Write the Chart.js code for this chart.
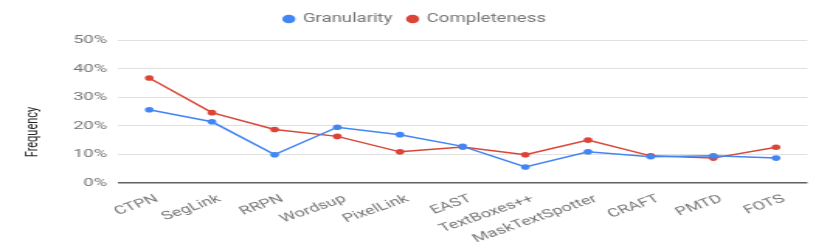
<!DOCTYPE html>
<html>
<head>
<meta charset="utf-8">
<script src="https://cdn.jsdelivr.net/npm/chart.js@4/dist/chart.umd.min.js"></script>
<style>
    html, body { margin: 0; padding: 0; background: #fff; overflow: hidden; }
    /* the reference is a chart stretched sideways, so draw it narrow and stretch it */
    #wrap {
        width: 535px;
        height: 245px;
        position: relative;
        transform: scaleX(1.5514);
        transform-origin: 0 0;
    }
</style>
</head>
<body>
<div id="wrap"><canvas id="chart"></canvas></div>
<script>
const methods = ["CTPN", "SegLink", "RRPN", "Wordsup", "PixelLink", "EAST",
    "TextBoxes++", "MaskTextSpotter", "CRAFT", "PMTD", "FOTS"];
const granularity = [25.6, 21.4, 9.9, 19.5, 16.9, 12.8, 5.6, 10.9, 9.2, 9.5, 8.7];
const completeness = [36.7, 24.6, 18.7, 16.3, 10.9, 12.6, 9.9, 15.0, 9.5, 8.7, 12.5];
const yTicks = [0, 10, 20, 30, 40, 50];
const yTitle = "Frequency";

const grey = "#757575";
const font = { family: "Roboto", size: 11.7 };

// draws the y axis title where the reference has it
const yTitlePlugin = {
    id: "yTitle",
    afterDraw(chart) {
        const ctx = chart.ctx;
        ctx.save();
        ctx.translate(21, 132);
        ctx.rotate(-Math.PI / 2);
        ctx.fillStyle = "#222";
        ctx.font = "11px Roboto";
        ctx.textAlign = "center";
        ctx.textBaseline = "middle";
        ctx.fillText(yTitle, 0, 0);
        ctx.restore();
    },
};

// leave a bit more room under the legend
const legendGap = {
    id: "legendGap",
    beforeUpdate(chart) {
        const legend = chart.legend;
        if (legend && !legend._gapPatched) {
            const fit = legend.fit;
            legend.fit = function () {
                fit.call(this);
                this.height += 5;
            };
            legend._gapPatched = true;
        }
    },
};

const ctx = document.getElementById("chart").getContext("2d");
new Chart(ctx, {
    type: "line",
    data: {
        labels: methods,
        datasets: [
            {
                label: "Granularity",
                data: granularity,
                borderColor: "#4285F4",
                backgroundColor: "#4285F4",
                borderWidth: 1.5,
                pointRadius: 2.8,
                pointBorderWidth: 0,
                tension: 0,
            },
            {
                label: "Completeness",
                data: completeness,
                borderColor: "#DB4437",
                backgroundColor: "#DB4437",
                borderWidth: 1.5,
                pointRadius: 2.8,
                pointBorderWidth: 0,
                tension: 0,
            },
        ],
    },
    options: {
        responsive: true,
        maintainAspectRatio: false,
        animation: false,
        layout: {
            padding: { left: 0, right: 0, top: 3, bottom: 0 },
        },
        plugins: {
            legend: {
                position: "top",
                labels: {
                    usePointStyle: true,
                    pointStyle: "circle",
                    boxWidth: 6,
                    boxHeight: 6,
                    color: grey,
                    font: { family: "Roboto", size: 12 },
                    padding: 10,
                },
            },
            tooltip: { enabled: false },
        },
        scales: {
            x: {
                offset: true,
                grid: { display: false },
                border: { display: false },
                ticks: {
                    color: grey,
                    font: font,
                    minRotation: 28,
                    maxRotation: 28,
                    autoSkip: false,
                    padding: 1,
                    labelOffset: 5,
                },
                afterFit: function (scale) {
                    scale.height = 62;
                },
            },
            y: {
                min: 0,
                max: 50,
                afterBuildTicks: function (scale) {
                    scale.ticks = yTicks.map((v) => ({ value: v }));
                },
                grid: {
                    drawTicks: false,
                    color: function (c) {
                        return c.tick.value === 0 ? "#616161" : "#e0e0e0";
                    },
                    lineWidth: function (c) {
                        return c.tick.value === 0 ? 1.5 : 1;
                    },
                },
                border: { display: false },
                ticks: {
                    color: grey,
                    font: font,
                    padding: 7,
                    callback: function (v) {
                        return v + "%";
                    },
                },
                afterFit: function (scale) {
                    scale.width = 76;
                },
            },
            // empty right axis, only keeps the plot clear of the right edge
            yRight: {
                position: "right",
                min: 0,
                max: 50,
                grid: { display: false },
                border: { display: false },
                ticks: { display: false },
                afterFit: function (scale) {
                    scale.width = 14.6;
                },
            },
        },
    },
    plugins: [yTitlePlugin, legendGap],
});
</script>
</body>
</html>
